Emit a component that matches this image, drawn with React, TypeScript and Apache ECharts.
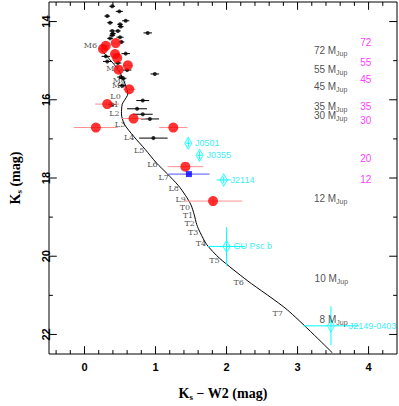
import React, { useEffect, useRef } from 'react';
import * as echarts from 'echarts';

// Spectral-type sequence (curve)
const curveX = [0.21, 0.36, 0.48, 0.55, 0.59, 0.61, 0.56, 0.53, 0.52, 0.56, 0.69, 0.855, 1.01, 1.17, 1.32, 1.42, 1.5, 1.545, 1.58, 1.63, 1.72, 1.9, 2.29, 2.855, 3.49];
const curveY = [14.67, 14.98, 15.24, 15.5, 15.69, 15.85, 16.02, 16.12, 16.36, 16.62, 16.93, 17.27, 17.61, 17.9, 18.19, 18.44, 18.69, 18.94, 19.19, 19.4, 19.7, 20.05, 20.62, 21.37, 22.47];

// Spectral type labels
const sptNames = ['M6', 'M7', 'M8', 'M9', 'L0', 'L1', 'L2', 'L3', 'L4', 'L5', 'L6', 'L7', 'L8', 'L9', 'T0', 'T1', 'T2', 'T3', 'T4', 'T5', 'T6', 'T7'];
const sptX = [0.082, 0.4, 0.49, 0.48, 0.437, 0.41, 0.42, 0.5, 0.63, 0.77, 0.955, 1.115, 1.255, 1.355, 1.415, 1.455, 1.48, 1.53, 1.64, 1.83, 2.17, 2.72];
const sptY = [14.62, 15.2, 15.5, 15.64, 15.92, 16.12, 16.36, 16.62, 16.96, 17.29, 17.65, 17.98, 18.28, 18.54, 18.76, 18.96, 19.17, 19.39, 19.68, 20.1, 20.68, 21.47];

// Field dwarfs (black)
const fieldX = [0.39, 0.49, 0.32, 0.58, 0.36, 0.5, 0.51, 0.39, 0.47, 0.89, 0.39, 0.5, 0.36, 0.52, 0.4, 0.58, 0.3, 0.32, 0.47, 0.6, 0.99, 0.51, 0.54, 0.53, 0.82, 0.39, 0.74, 0.82, 0.92, 0.97];
const fieldY = [13.61, 13.74, 13.86, 13.98, 14.03, 14.07, 14.13, 14.24, 14.24, 14.29, 14.35, 14.4, 14.43, 14.52, 14.31, 14.82, 14.89, 15.02, 15.06, 15.24, 15.34, 15.42, 15.45, 15.64, 16.02, 16.12, 16.23, 16.37, 16.49, 16.98];
const fieldXerr = [0.04, 0.05, 0.04, 0.05, 0.04, 0.04, 0.04, 0.04, 0.04, 0.06, 0.04, 0.05, 0.04, 0.04, 0.04, 0.06, 0.06, 0.06, 0.05, 0.06, 0.06, 0.05, 0.05, 0.05, 0.09, 0.06, 0.14, 0.14, 0.13, 0.2];

// Young objects (red)
const redX = [0.26, 0.3, 0.44, 0.43, 0.46, 0.61, 0.48, 0.63, 0.32, 0.69, 0.16, 1.25, 1.42, 1.81];
const redY = [14.7, 14.62, 14.55, 14.83, 14.93, 15.12, 15.23, 15.73, 16.11, 16.48, 16.71, 16.71, 17.71, 18.59];
const redXerr = [0.05, 0.05, 0.05, 0.05, 0.05, 0.06, 0.06, 0.09, 0.17, 0.17, 0.31, 0.2, 0.25, 0.41];
const redYerr = [0, 0, 0, 0, 0, 0, 0, 0, 0, 0, 0, 0, 0, 0.12];

// Blue square
const blueX = [1.47];
const blueY = [17.9];
const blueXerr = [0.29];

// Cyan objects
const cyanNames = ['J0501', 'J0355', 'J2114', 'GU Psc b', 'J2149-0403'];
const cyanX = [1.46, 1.62, 1.96, 2.0, 3.47];
const cyanY = [17.11, 17.42, 18.05, 19.75, 21.78];
const cyanXerr = [0.03, 0.03, 0.1, 0.26, 0.39];
const cyanYerr = [0.1, 0.1, 0.08, 0.49, 0.5];

// Mass labels (black) and magenta labels
const massNames = ['72', '55', '45', '35', '30', '12', '10', '8'];
const massX = [3.23, 3.23, 3.23, 3.23, 3.23, 3.23, 3.24, 3.31];
const massY = [14.74, 15.23, 15.66, 16.16, 16.41, 18.52, 20.57, 21.61];
const magNames = ['72', '55', '45', '35', '30', '20', '12'];
const magX = [3.96, 3.96, 3.96, 3.96, 3.96, 3.96, 3.96];
const magY = [14.53, 15.04, 15.49, 16.16, 16.53, 17.5, 18.03];

// Axis ranges and ticks
const xRange = [-0.5, 4.4];
const yRange = [13.5, 22.5];
const xMajor = [0, 1, 2, 3, 4];
const xMinor = [-0.4, -0.2, 0.2, 0.4, 0.6, 0.8, 1.2, 1.4, 1.6, 1.8, 2.2, 2.4, 2.6, 2.8, 3.2, 3.4, 3.6, 3.8, 4.2];
const yMajor = [14, 16, 18, 20, 22];
const yMinor = [15, 17, 19, 21];

const errBar = (color: string, lw: number) => (params: any, api: any) => {
  const x = api.value(0), y = api.value(1), xe = api.value(2), ye = api.value(3);
  const children: any[] = [];
  if (xe > 0) {
    const a = api.coord([x - xe, y]);
    const b = api.coord([x + xe, y]);
    children.push({ type: 'line', shape: { x1: a[0], y1: a[1], x2: b[0], y2: b[1] }, style: { stroke: color, lineWidth: lw } });
  }
  if (ye > 0) {
    const a = api.coord([x, y - ye]);
    const b = api.coord([x, y + ye]);
    children.push({ type: 'line', shape: { x1: a[0], y1: a[1], x2: b[0], y2: b[1] }, style: { stroke: color, lineWidth: lw } });
  }
  return { type: 'group', children };
};

// Segment renderer: [x1, y1, x2, y2] in data units
const segment = (params: any, api: any) => {
  const a = api.coord([api.value(0), api.value(1)]);
  const b = api.coord([api.value(2), api.value(3)]);
  return { type: 'line', shape: { x1: a[0], y1: a[1], x2: b[0], y2: b[1] }, style: { stroke: '#000', lineWidth: 1 } };
};

const buildFrameAndTicks = () => {
  const [x0, x1] = xRange;
  const [y0, y1] = yRange;
  const xLenMaj = 0.2, xLenMin = 0.1; // tick length along y (mag)
  const yLenMaj = 0.11, yLenMin = 0.055; // tick length along x (mag)
  const segs: number[][] = [
    [x0, y0, x1, y0], [x0, y1, x1, y1], [x0, y0, x0, y1], [x1, y0, x1, y1],
  ];
  xMajor.forEach((v) => { segs.push([v, y1, v, y1 - xLenMaj], [v, y0, v, y0 + xLenMaj]); });
  xMinor.forEach((v) => { segs.push([v, y1, v, y1 - xLenMin], [v, y0, v, y0 + xLenMin]); });
  yMajor.forEach((v) => { segs.push([x0, v, x0 + yLenMaj, v], [x1, v, x1 - yLenMaj, v]); });
  yMinor.forEach((v) => { segs.push([x0, v, x0 + yLenMin, v], [x1, v, x1 - yLenMin, v]); });
  return segs;
};

const App = () => {
  const ref = useRef<HTMLDivElement>(null);
  useEffect(() => {
    document.body.style.margin = '0';
    const chart = echarts.init(ref.current!, null, { renderer: 'svg' });
    const subRich = {
      b: { fontFamily: 'Liberation Serif', fontWeight: 'bold', fontSize: 14, color: '#000' },
      s: { fontFamily: 'Liberation Serif', fontWeight: 'bold', fontSize: 9, color: '#000', padding: [7, 0, 0, 0] },
    };
    const option: any = {
      animation: false,
      grid: { left: 37, right: 2, top: 2, bottom: 45, show: false },
      xAxis: {
        type: 'value', min: xRange[0], max: xRange[1], position: 'bottom',
        axisLine: { show: false }, splitLine: { show: false }, axisTick: { show: false },
        axisLabel: { customValues: xMajor, margin: 7, fontFamily: 'Liberation Sans', fontWeight: 'bold', fontSize: 11, color: '#000' },
        name: '{b|K}{s|s}{b| − W2 (mag)}', nameLocation: 'middle', nameGap: 31,
        nameTextStyle: { rich: subRich },
      },
      yAxis: {
        type: 'value', min: yRange[0], max: yRange[1], inverse: true, position: 'left',
        axisLine: { show: false }, splitLine: { show: false }, axisTick: { show: false },
        axisLabel: { customValues: yMajor, rotate: 90, margin: -2, fontFamily: 'Liberation Sans', fontWeight: 'bold', fontSize: 11, color: '#000' },
        name: '{b|K}{s|s}{b| (mag)}', nameLocation: 'middle', nameGap: 26, nameRotate: 90,
        nameTextStyle: { rich: subRich },
      },
      series: [
        { type: 'custom', renderItem: segment, data: buildFrameAndTicks() },
        {
          type: 'line', data: curveX.map((x, i) => [x, curveY[i]]), smooth: 0.25, showSymbol: false,
          lineStyle: { color: '#000', width: 1 }, z: 2,
        },
        {
          type: 'scatter', data: sptX.map((x, i) => [x, sptY[i], sptNames[i]]), symbolSize: 0, z: 2,
          label: { show: true, position: 'inside', formatter: (p: any) => p.value[2], fontFamily: 'DejaVu Serif', fontSize: 8, color: '#222' },
        },
        {
          type: 'custom', renderItem: errBar('#000', 1), data: fieldX.map((x, i) => [x, fieldY[i], fieldXerr[i], 0]), z: 3,
        },
        {
          type: 'scatter', data: fieldX.map((x, i) => [x, fieldY[i]]), symbol: 'circle', symbolSize: 4,
          itemStyle: { color: '#000' }, z: 3,
        },
        {
          type: 'custom', renderItem: errBar('#ff9090', 1), data: redX.map((x, i) => [x, redY[i], redXerr[i], redYerr[i]]), z: 4,
        },
        {
          type: 'scatter', data: redX.map((x, i) => [x, redY[i]]), symbol: 'circle', symbolSize: 10,
          itemStyle: { color: '#ff0000' }, z: 5,
        },
        {
          type: 'custom', renderItem: errBar('#5050ff', 1), data: blueX.map((x, i) => [x, blueY[i], blueXerr[i], 0]), z: 4,
        },
        {
          type: 'scatter', data: blueX.map((x, i) => [x, blueY[i]]), symbol: 'rect', symbolSize: 6,
          itemStyle: { color: '#0000ff' }, z: 5,
        },
        {
          type: 'custom', renderItem: errBar('#00ffff', 1), data: cyanX.map((x, i) => [x, cyanY[i], cyanXerr[i], cyanYerr[i]]), z: 4,
        },
        {
          type: 'scatter',
          data: cyanX.map((x, i) => {
            const item: any = { value: [x, cyanY[i], cyanNames[i]] };
            if (cyanNames[i] === 'J2149-0403') item.label = { distance: 14 };
            return item;
          }),
          symbol: 'diamond', symbolSize: [7, 12],
          itemStyle: { color: 'rgba(255,255,255,0)', borderColor: '#00ffff', borderWidth: 1 }, z: 6,
          label: {
            show: true, position: 'right', distance: 3, formatter: (p: any) => p.value[2],
            fontFamily: 'Liberation Sans', fontSize: 9, color: '#00e8f0',
          },
        },
        {
          type: 'scatter', data: massX.map((x, i) => [x, massY[i], massNames[i]]), symbolSize: 0, z: 6,
          label: {
            show: true, position: 'right', distance: 0,
            formatter: (p: any) => `{a|${p.value[2]} M}{s|Jup}`,
            rich: {
              a: { fontFamily: 'Liberation Sans', fontSize: 10, color: '#222' },
              s: { fontFamily: 'Liberation Sans', fontSize: 7, color: '#222', padding: [6, 0, 0, 0] },
            },
          },
        },
        {
          type: 'scatter', data: magX.map((x, i) => [x, magY[i], magNames[i]]), symbolSize: 0, z: 6,
          label: { show: true, position: 'inside', formatter: (p: any) => p.value[2], fontFamily: 'Liberation Sans', fontSize: 10, color: '#ff00ff' },
        },
      ],
    };
    chart.setOption(option);
    return () => chart.dispose();
  }, []);
  return <div ref={ref} style={{ width: 399, height: 406 }} />;
};

export default App;
